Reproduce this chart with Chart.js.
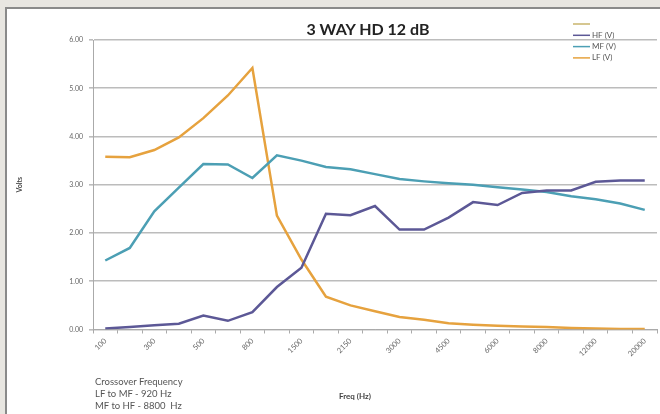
<!DOCTYPE html>
<html>
<head>
<meta charset="utf-8">
<script src="https://cdn.jsdelivr.net/npm/chart.js@4"></script>
<style>
  html, body { margin: 0; padding: 0; }
  body { width: 660px; height: 414px; background: #e8e6e1; position: relative; overflow: hidden; font-family: Lato, sans-serif; }
  #panel { position: absolute; left: 5px; top: 7px; width: 680px; height: 440px; background: #fff; border: 2px solid #8a8a8a; }
  #wrap { position: absolute; left: 0; top: 0; width: 660px; height: 414px; }
  #title { position: absolute; left: 268px; width: 200px; top: 19px; text-align: center; font-size: 16px; font-weight: bold; color: #222; }
  #xtitle { position: absolute; left: 305px; width: 100px; top: 391px; text-align: center; font-size: 8px; font-weight: bold; color: #444; }
  #note { position: absolute; left: 95px; top: 376px; font-size: 9.5px; color: #555; line-height: 12px; }
</style>
</head>
<body>
<div id="panel"></div>
<div id="wrap"><canvas id="chart"></canvas></div>
<div id="title">3 WAY HD 12 dB</div>
<div id="xtitle">Freq (Hz)</div>
<div id="note">Crossover Frequency<br>LF to MF - 920 Hz<br>MF to HF - 8800&nbsp; Hz</div>
<script>
var freqs = ["100", "200", "300", "400", "500", "600", "800", "1000", "1500", "2000", "2150", "2500",
             "3000", "4000", "4500", "5000", "6000", "7000", "8000", "10000", "12000", "16000", "20000"];
var hfVolts = [0.02, 0.05, 0.09, 0.12, 0.29, 0.18, 0.36, 0.88, 1.28, 2.40, 2.37, 2.56,
               2.07, 2.07, 2.32, 2.64, 2.58, 2.83, 2.88, 2.88, 3.06, 3.09, 3.09];
var mfVolts = [1.43, 1.69, 2.45, 2.94, 3.43, 3.42, 3.14, 3.61, 3.50, 3.37, 3.32, 3.22,
               3.12, 3.07, 3.03, 3.00, 2.95, 2.90, 2.85, 2.76, 2.70, 2.61, 2.48];
var lfVolts = [3.58, 3.57, 3.72, 3.98, 4.38, 4.85, 5.42, 2.36, 1.45, 0.68, 0.50, 0.38,
               0.26, 0.20, 0.13, 0.10, 0.08, 0.06, 0.05, 0.03, 0.02, 0.01, 0.01];

// legend drawn as a small vertical list in the top right corner
var legendBox = {
    id: "legendBox",
    afterDraw: function (chart) {
        var ctx = chart.ctx;
        ctx.save();
        ctx.font = "8px Lato, sans-serif";
        ctx.textBaseline = "middle";
        ctx.fillStyle = "#555";
        chart.data.datasets.forEach(function (ds, i) {
            var y = 24 + i * 11.3;
            ctx.strokeStyle = ds.borderColor;
            ctx.lineWidth = 1.5;
            ctx.beginPath();
            ctx.moveTo(573, y);
            ctx.lineTo(590, y);
            ctx.stroke();
            ctx.fillText(ds.label, 592, y);
        });
        ctx.restore();
    }
};

var ctx = document.getElementById("chart");
var lineChart = new Chart(ctx, {
    type: "line",
    data: {
        labels: freqs,
        datasets: [
            { label: "", data: [], borderColor: "#c8b46c" },
            { label: "HF (V)", data: hfVolts, borderColor: "#5c5896" },
            { label: "MF (V)", data: mfVolts, borderColor: "#4c9fb4" },
            { label: "LF (V)", data: lfVolts, borderColor: "#e6a23e" }
        ]
    },
    options: {
        responsive: true,
        maintainAspectRatio: false,
        animation: false,
        datasets: { line: { borderWidth: 2.5, pointRadius: 0, tension: 0, fill: false } },
        layout: { padding: { left: 16, right: 3, top: 40, bottom: 10 } },
        plugins: {
            legend: { display: false },
            tooltip: { enabled: false },
            title: { display: false }
        },
        scales: {
            x: {
                offset: true,
                afterFit: function (s) { s.height = 74.5; },
                grid: { offset: true, drawOnChartArea: false, drawTicks: true, tickLength: 4, color: "#aaa" },
                border: { color: "#aaa" },
                ticks: {
                    autoSkip: false,
                    minRotation: 45,
                    maxRotation: 45,
                    padding: 3,
                    color: "#666",
                    font: { family: "Lato", size: 7.5 },
                    callback: function (v, i) { return i % 2 === 0 ? this.getLabelForValue(v) : ""; }
                }
            },
            y: {
                min: 0,
                max: 6,
                afterFit: function (s) { s.width = 77; },
                grid: { color: "#bcbcbc", lineWidth: 1.6, tickLength: 4 },
                border: { color: "#aaa" },
                ticks: {
                    stepSize: 1,
                    padding: 6,
                    color: "#666",
                    font: { family: "Lato", size: 7 },
                    callback: function (v) { return v.toFixed(2); }
                },
                title: {
                    display: true,
                    text: "Volts",
                    color: "#444",
                    font: { family: "Lato", size: 7, weight: "bold" },
                    padding: { top: 0, bottom: 0 }
                }
            }
        }
    },
    plugins: [legendBox]
});
</script>
</body>
</html>
